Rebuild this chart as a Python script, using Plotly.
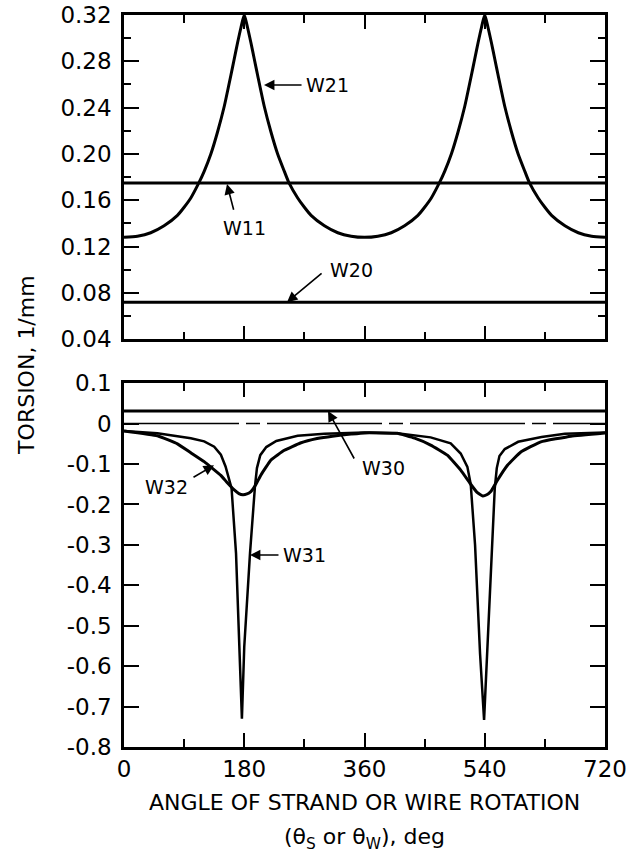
import plotly.graph_objects as go

# ---------------- data ----------------
theta_flat = [0, 720]
w11_value = [0.175, 0.175]
w20_value = [0.072, 0.072]
w30_value = [0.031, 0.031]
zero_value = [0.0, 0.0]

theta_w21 = [0, 20, 40, 60, 80, 90, 100, 112, 120, 130, 140, 150, 160, 165, 170, 175, 180,
             185, 190, 195, 200, 210, 220, 230, 240, 247, 260, 270, 280, 300, 320, 340, 360,
             380, 400, 420, 440, 450, 460, 472, 480, 490, 500, 510, 520, 525, 530, 535, 540,
             545, 550, 555, 560, 570, 580, 590, 600, 607, 620, 630, 640, 660, 680, 700, 720]
w21 = [0.128, 0.129, 0.132, 0.138, 0.147, 0.154, 0.162, 0.175, 0.185, 0.200, 0.219, 0.241, 0.268, 0.282, 0.296, 0.309, 0.320,
       0.309, 0.296, 0.282, 0.268, 0.241, 0.219, 0.200, 0.185, 0.175, 0.162, 0.154, 0.147, 0.138, 0.132, 0.129, 0.128,
       0.129, 0.132, 0.138, 0.147, 0.154, 0.162, 0.175, 0.185, 0.200, 0.219, 0.241, 0.268, 0.282, 0.296, 0.309, 0.320,
       0.309, 0.296, 0.282, 0.268, 0.241, 0.219, 0.200, 0.185, 0.175, 0.162, 0.154, 0.147, 0.138, 0.132, 0.129, 0.128]

theta_w31 = [0, 50, 100, 120, 135, 145, 152, 157, 161, 167.7, 172.6, 176.5, 180, 188.6, 196, 199, 204, 213,
             228, 260, 300, 360, 409, 459, 489, 504, 514, 519, 525.5, 533, 539, 544, 549.5, 555, 558, 562,
             570, 590, 625, 660, 720]
w31 = [-0.018, -0.024, -0.036, -0.044, -0.057, -0.077, -0.106, -0.139, -0.160, -0.321, -0.552, -0.730, -0.552,
       -0.321, -0.156, -0.110, -0.078, -0.058, -0.043, -0.030, -0.025, -0.022, -0.024, -0.034, -0.049, -0.074,
       -0.107, -0.150, -0.300, -0.570, -0.733, -0.552, -0.330, -0.160, -0.110, -0.080, -0.063, -0.045, -0.033,
       -0.025, -0.022]

theta_w32 = [0, 50, 80, 100, 120, 132, 145, 155, 165, 172, 178, 184, 190, 197, 205, 220, 240, 264, 289, 312,
             340, 360, 409, 435, 459, 484, 504, 519, 529, 537, 543, 549, 559, 574, 594, 624, 669, 720]
w32 = [-0.018, -0.030, -0.050, -0.072, -0.094, -0.110, -0.128, -0.147, -0.164, -0.173, -0.176, -0.174, -0.168,
       -0.152, -0.127, -0.090, -0.066, -0.048, -0.037, -0.031, -0.026, -0.023, -0.024, -0.036, -0.053, -0.078,
       -0.115, -0.150, -0.171, -0.179, -0.176, -0.168, -0.140, -0.103, -0.070, -0.045, -0.031, -0.023]

x_tickvals = [0, 180, 360, 540, 720]
x_ticktext = ["0", "180", "360", "540", "720"]
top_tickvals = [0.04, 0.08, 0.12, 0.16, 0.20, 0.24, 0.28, 0.32]
top_ticktext = ["0.04", "0.08", "0.12", "0.16", "0.20", "0.24", "0.28", "0.32"]
bot_tickvals = [-0.8, -0.7, -0.6, -0.5, -0.4, -0.3, -0.2, -0.1, 0.0, 0.1]
bot_ticktext = ["-0.8", "-0.7", "-0.6", "-0.5", "-0.4", "-0.3", "-0.2", "-0.1", "0", "0.1"]

FONT = "DejaVu Sans"
BLACK = "#000000"

fig = go.Figure()

def line(x, y, xa, ya, width=3, dash="solid", shape="linear", smoothing=None):
    fig.add_trace(go.Scatter(x=x, y=y, xaxis=xa, yaxis=ya, mode="lines",
                             line=dict(color=BLACK, width=width, dash=dash, shape=shape,
                                       smoothing=smoothing),
                             showlegend=False, hoverinfo="skip"))

# top panel
line(theta_flat, w11_value, "x", "y", width=3)
line(theta_flat, w20_value, "x", "y", width=3)
line(theta_w21, w21, "x", "y", width=3, shape="spline", smoothing=0.6)
# bottom panel
line(theta_flat, zero_value, "x2", "y2", width=1.5, dash="115px,7px,14px,7px")
line(theta_flat, w30_value, "x2", "y2", width=3)
line(theta_w32, w32, "x2", "y2", width=3, shape="spline", smoothing=0.3)
line(theta_w31, w31, "x2", "y2", width=2.5)

axis_common = dict(showline=True, linecolor=BLACK, linewidth=2.5, mirror="ticks",
                   ticks="inside", tickcolor=BLACK, tickwidth=2, showgrid=False, zeroline=False,
                   automargin=False,
                   tickfont=dict(family=FONT, size=23, color=BLACK))

fig.update_layout(
    width=639, height=856,
    margin=dict(l=124, r=34, t=15, b=109),
    paper_bgcolor="white", plot_bgcolor="white",
    xaxis=dict(axis_common, domain=[0, 1], anchor="y", range=[0, 720],
               tickvals=x_tickvals, ticklen=14, showticklabels=False,
               minor=dict(dtick=90, tick0=0, ticklen=8, ticks="inside", tickcolor=BLACK, tickwidth=2)),
    yaxis=dict(axis_common, domain=[0.557, 1], anchor="x", range=[0.04, 0.32],
               tickvals=top_tickvals, ticktext=top_ticktext, ticklen=15, ticklabelstandoff=5,
               minor=dict(dtick=0.02, tick0=0.04, ticklen=7, ticks="inside", tickcolor=BLACK, tickwidth=2)),
    xaxis2=dict(axis_common, domain=[0, 1], anchor="y2", range=[0, 720],
                tickvals=x_tickvals, ticktext=x_ticktext, ticklen=14, ticklabelstandoff=0,
                minor=dict(dtick=90, tick0=0, ticklen=8, ticks="inside", tickcolor=BLACK, tickwidth=2)),
    yaxis2=dict(axis_common, domain=[0, 0.497], anchor="x2", range=[-0.8, 0.1],
                tickvals=bot_tickvals, ticktext=bot_ticktext, ticklen=15, ticklabelstandoff=5),
)

LAB = dict(family=FONT, size=19, color=BLACK)

def arrow(xr, yr, x, y, ax, ay):
    fig.add_annotation(xref=xr, yref=yr, axref=xr, ayref=yr, x=x, y=y, ax=ax, ay=ay,
                       text="", showarrow=True, arrowhead=2, arrowsize=1.3, arrowwidth=1.6,
                       arrowcolor=BLACK)

def label(xr, yr, x, y, text):
    fig.add_annotation(xref=xr, yref=yr, x=x, y=y, text=text, showarrow=False, font=LAB,
                       xanchor="center", yanchor="middle")

# top panel labels
arrow("x", "y", 209.6, 0.2595, 268, 0.2595)
label("x", "y", 305, 0.2595, "W21")
arrow("x", "y", 154.2, 0.174, 164.7, 0.1506)
label("x", "y", 181, 0.136, "W11")
arrow("x", "y", 244, 0.072, 298, 0.098)
label("x", "y", 340, 0.0996, "W20")
# bottom panel labels
arrow("x2", "y2", 305.4, 0.031, 345.8, -0.090)
label("x2", "y2", 389, -0.110, "W30")
arrow("x2", "y2", 134.7, -0.103, 101.8, -0.135)
label("x2", "y2", 63, -0.157, "W32")
arrow("x2", "y2", 188.6, -0.325, 233.5, -0.325)
label("x2", "y2", 270, -0.325, "W31")

# axis titles
fig.add_annotation(xref="paper", yref="paper", x=-0.2017, y=0.522, text="TORSION, 1/mm",
                   textangle=-90, showarrow=False, xanchor="center", yanchor="middle",
                   font=dict(family=FONT, size=22, color=BLACK))
fig.add_annotation(xref="paper", yref="paper", x=0.5, y=-55 / 732, text="ANGLE OF STRAND OR WIRE ROTATION",
                   showarrow=False, xanchor="center", yanchor="middle",
                   font=dict(family=FONT, size=22, color=BLACK))
fig.add_annotation(xref="paper", yref="paper", x=0.5, y=-91 / 732,
                   text="(θ<sub>S</sub> or θ<sub>W</sub>), deg",
                   showarrow=False, xanchor="center", yanchor="middle",
                   font=dict(family=FONT, size=22, color=BLACK))

# remove the browser's default page margin so the figure sits at the window's corner
fig.write_html("out.html", config={"displayModeBar": False},
               post_script="document.body.style.margin='0';")
